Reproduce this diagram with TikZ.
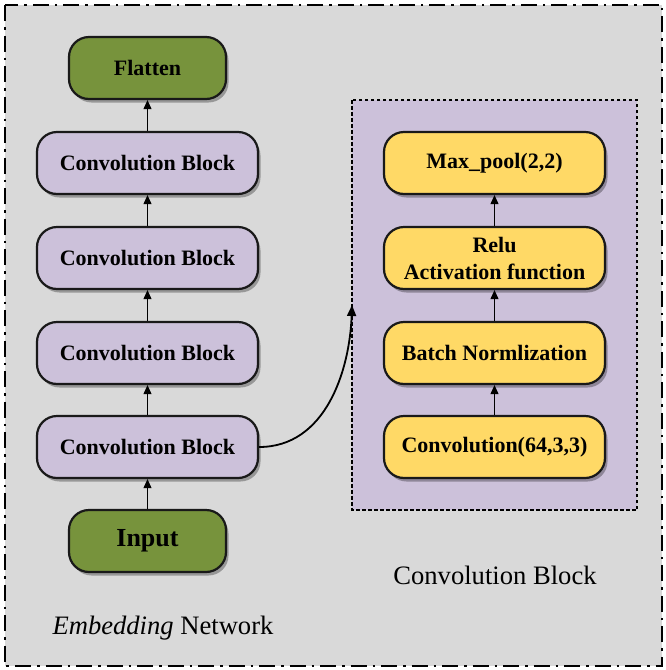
\documentclass[tikz,border=0pt]{standalone}
\usepackage{fontspec}
\setmainfont{Liberation Serif}
\usetikzlibrary{shadows,arrows.meta}
\definecolor{bggray}{HTML}{D9D9D9}
\definecolor{olive}{HTML}{77933C}
\definecolor{lav}{HTML}{CCC1DA}
\definecolor{ylw}{HTML}{FFD966}
\begin{document}
\begin{tikzpicture}[x=1pt,y=-1pt,
  box/.style={draw=black!90, line width=2.2pt, rounded corners=20pt, minimum width=221pt, minimum height=62pt, inner sep=0pt, align=center,
    font=\fontsize{22}{27}\selectfont\bfseries,
    drop shadow={shadow xshift=2.5pt, shadow yshift=-3.5pt, opacity=0.3, fill=black}},
  conv/.style={box, fill=lav},
  grn/.style={box, fill=olive, minimum width=157pt},
  yel/.style={box, fill=ylw},
  arr/.style={line width=0.9pt, -{Triangle[length=9pt,width=8pt]}},
  lbl/.style={font=\fontsize{26.6}{30}\selectfont, inner sep=0pt}
]
\useasboundingbox (0,0) rectangle (665,670);
\draw[fill=bggray, line width=2.6pt, dash pattern=on 16pt off 6pt on 2.5pt off 6pt] (5,5) rectangle (662,666);
% dotted block
\draw[fill=lav, line width=2pt, dash pattern=on 3.5pt off 2.5pt] (352,100) rectangle (637,510);

% left column
\node[grn] (flat) at (147.5,68) {Flatten};
\node[conv] (cb4) at (147.5,163) {Convolution Block};
\node[conv] (cb3) at (147.5,258) {Convolution Block};
\node[conv] (cb2) at (147.5,353) {Convolution Block};
\node[conv] (cb1) at (147.5,447) {Convolution Block};
\node[grn, font=\fontsize{26}{30}\selectfont\bfseries] (inp) at (147.5,541) {Input};

\draw[arr] (inp) -- (cb1);
\draw[arr] (cb1) -- (cb2);
\draw[arr] (cb2) -- (cb3);
\draw[arr] (cb3) -- (cb4);
\draw[arr] (cb4) -- (flat);

% right column
\node[yel] (conv) at (494.5,447) {Convolution(64,3,3)};
\node[yel] (bn) at (494.5,353) {Batch Normlization};
\node[yel] (relu) at (494.5,258) {Relu\\Activation function};
\node[yel] (mp) at (494.5,163) {Max\_pool(2,2)};

\draw[arr] (conv) -- (bn);
\draw[arr] (bn) -- (relu);
\draw[arr] (relu) -- (mp);

% curve
\coordinate (cbin) at (352,305);
\draw[line width=1.8pt, -{Triangle[length=11pt,width=9pt]}] (cb1.east) to[out=0, in=-92] (cbin);

% labels
\node[lbl] (lcb) at (495,575) {Convolution Block};
\node[lbl] (lemb) at (163,628) {\textit{Embedding} Network};
\end{tikzpicture}
\end{document}
